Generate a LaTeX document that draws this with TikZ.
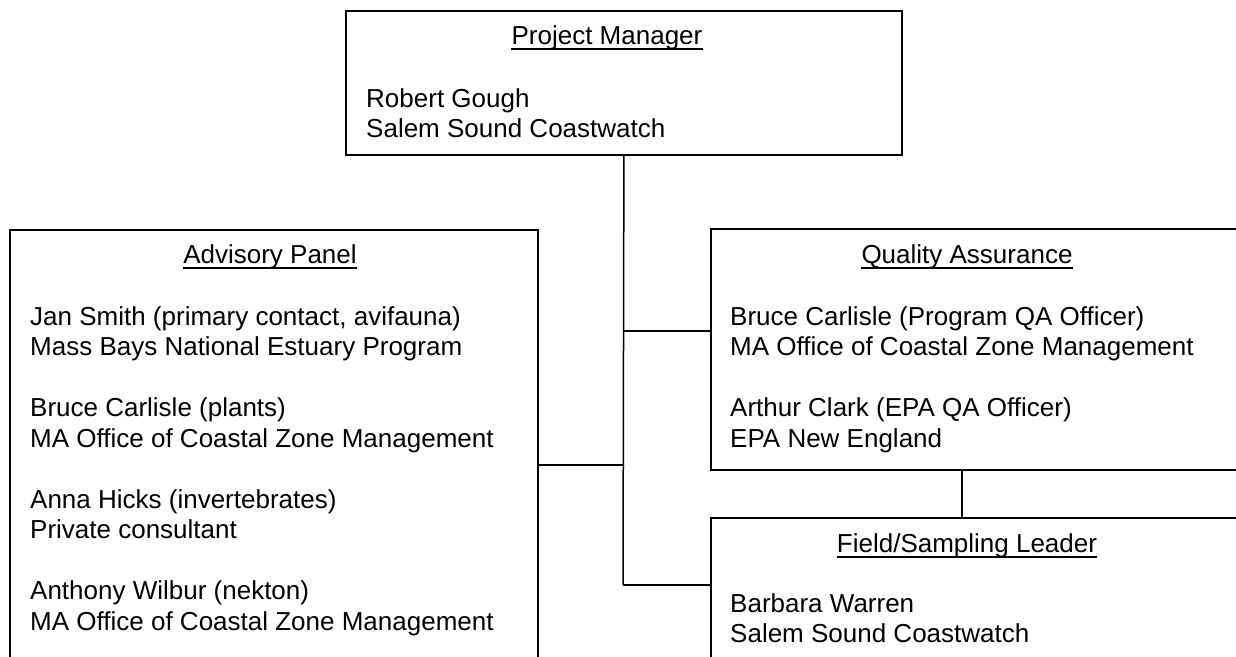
\documentclass[tikz,border=0pt]{standalone}
\usepackage{fontspec}
\setmainfont{Liberation Sans}
\begin{document}
\begin{tikzpicture}[x=1pt,y=-1pt,
  boxline/.style={line width=1.8pt},
  conn/.style={line width=1.5pt},
  orgbox/.style={draw,boxline,rectangle,inner sep=0pt,anchor=north west},
  txt/.style={inner sep=0pt,font=\fontsize{26}{30.5}\selectfont},
  head/.style={txt,anchor=base},
  body/.style={txt,anchor=base west}]
\useasboundingbox (0,0) rectangle (1236,656);
\clip (0,0) rectangle (1236,656);
% boxes
\node[orgbox,minimum width=556pt,minimum height=144pt] (pm) at (345,10) {};
\node[orgbox,minimum width=528pt,minimum height=450pt] (ap) at (9,229) {};
\node[orgbox,minimum width=540pt,minimum height=241pt] (qa) at (710,228) {};
\node[orgbox,minimum width=540pt,minimum height=160pt] (fs) at (710,517) {};
% headings
\node[head] (pmh) at (607,44) {Project Manager};
\node[head] (aph) at (270,263) {Advisory Panel};
\node[head] (qah) at (967,263) {Quality Assurance};
\node[head] (fsh) at (967,552) {Field/Sampling Leader};
\foreach \h in {pmh,aph,qah,fsh}{
  \draw[line width=1.8pt] ([yshift=-5pt]\h.base west) -- ([yshift=-5pt]\h.base east);
}
% bodies
\node[body] (pmb) at (366,107) {\begin{tabular}[t]{@{}l@{}}Robert Gough\\Salem Sound Coastwatch\end{tabular}};
\node[body] (apb) at (30,325) {\begin{tabular}[t]{@{}l@{}}Jan Smith (primary contact, avifauna)\\Mass Bays National Estuary Program\\ \\Bruce Carlisle (plants)\\MA Office of Coastal Zone Management\\ \\Anna Hicks (invertebrates)\\Private consultant\\ \\Anthony Wilbur (nekton)\\MA Office of Coastal Zone Management\end{tabular}};
\node[body] (qab) at (730,325) {\begin{tabular}[t]{@{}l@{}}Bruce Carlisle (Program QA Officer)\\MA Office of Coastal Zone Management\\ \\Arthur Clark (EPA QA Officer)\\EPA New England\end{tabular}};
\node[body] (fsb) at (730,612) {\begin{tabular}[t]{@{}l@{}}Barbara Warren\\Salem Sound Coastwatch\end{tabular}};
% connectors
\coordinate (tend) at (623,585);
\coordinate (jqa) at (623,331);
\coordinate (jap) at (623,465);
\coordinate (cq) at (962,490);
\draw[conn] (pm.south) -- (tend);
\draw[conn] (jqa) -- (jqa -| qa.west);
\draw[conn] (jap) -- (jap -| ap.east);
\draw[conn] (tend) -- (tend -| fs.west);
\draw[conn] (cq |- qa.south) -- (cq |- fs.north);
\end{tikzpicture}
\end{document}
